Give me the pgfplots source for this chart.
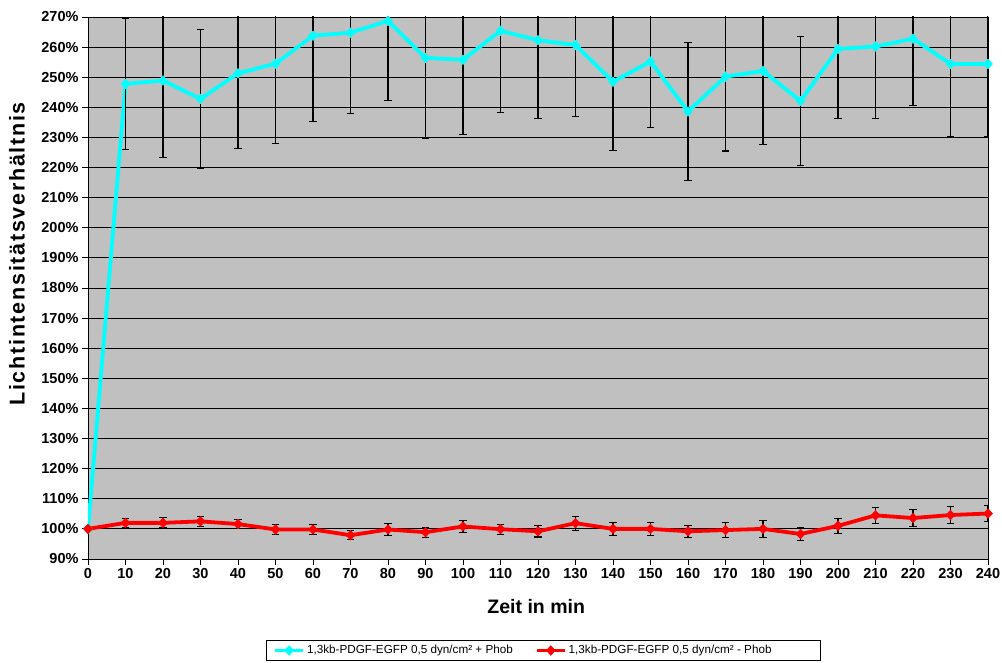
\documentclass[border=0pt]{standalone}
\usepackage{pgfplots}
\pgfplotsset{compat=1.18}
\usepackage{pgfplotstable}
\usepackage{fontspec}
\setmainfont{Liberation Sans}
\definecolor{plotbg}{HTML}{C0C0C0}
\definecolor{cyanl}{HTML}{00FFFF}
\definecolor{redl}{HTML}{FF0000}

\pgfplotstableread{
x y e
0 100 0
10 247.8 21.7
20 248.9 25.6
30 242.8 23.1
40 251.3 25.0
50 254.5 26.5
60 263.8 28.6
70 264.8 26.7
80 268.7 26.5
90 256.4 26.6
100 255.8 24.7
110 265.4 27.2
120 262.3 25.9
130 260.7 23.8
140 248.5 22.9
150 255.2 21.9
160 238.6 23.0
170 250.2 24.7
180 252.1 24.3
190 242.1 21.5
200 259.4 23.2
210 260.2 24.0
220 262.8 22.2
230 254.4 24.1
240 254.4 24.1
}\plus

\pgfplotstableread{
x y e
0 100 0
10 102.0 1.4
20 102.0 1.7
30 102.5 1.7
40 101.6 1.5
50 99.8 1.7
60 99.8 1.7
70 97.9 1.5
80 99.8 2.1
90 98.9 1.7
100 100.8 2.0
110 99.9 1.7
120 99.2 1.9
130 101.9 2.3
140 100.0 2.1
150 100.0 2.2
160 99.2 2.0
170 99.6 2.5
180 100.0 2.8
190 98.3 2.3
200 101.0 2.5
210 104.5 2.7
220 103.6 2.8
230 104.6 2.8
240 105.1 2.6
}\minus

\begin{document}
\begin{tikzpicture}
\begin{axis}[
  scale only axis,
  width=900pt, height=542pt,
  xmin=0, xmax=240, ymin=90, ymax=270,
  xtick distance=10, ytick distance=10,
  axis background/.style={fill=plotbg},
  axis line style={black, line width=0.8pt},
  ymajorgrids, grid style={black, line width=0.9pt},
  tick style={black, line width=0.8pt},
  tick align=outside,
  major tick length=6pt,
  xtick pos=bottom, ytick pos=left,
  tick label style={font=\bfseries\fontsize{14.5}{16}\selectfont},
  yticklabel={\pgfmathparse{int(round(\tick))}\pgfmathresult\%},
  xticklabel={\pgfmathparse{int(round(\tick))}\pgfmathresult},
  xlabel={Zeit in min},
  ylabel={\addfontfeature{LetterSpace=8}Lichtintensitätsverhältnis},
  xlabel style={font=\bfseries\fontsize{19.5}{22}\selectfont, at={(axis description cs:0.498,-0.0886)}, anchor=center},
  ylabel style={font=\bfseries\fontsize{21.5}{24}\selectfont, at={(axis description cs:-0.079,0.563)}, anchor=center, rotate=0},
  legend columns=2,
  legend style={at={(axis description cs:0.1978,-0.1688)}, anchor=west,
    draw=black, line width=0.5pt, fill=white,
    font=\fontsize{11.7}{13}\selectfont,
    /tikz/every even column/.append style={column sep=20pt},
    inner ysep=3pt, inner xsep=7pt},
  legend image code/.code={
    \draw[#1] (0pt,0pt) -- (28pt,0pt);
    \draw[#1, only marks] plot coordinates {(14pt,0pt)};
  },
  error bars/error bar style={black, line width=1.1pt},
  error bars/error mark options={rotate=90, mark size=3.6pt, line width=1.1pt, black},
]
\addplot[cyanl, line width=3.8pt, mark=diamond*, mark size=4.8pt,
  mark options={line width=0.5pt, fill=cyanl, xscale=1.25},
  error bars/.cd, y dir=both, y explicit]
  table[x=x, y=y, y error=e] {\plus};
\addlegendentry{1,3kb-PDGF-EGFP 0,5 dyn/cm² + Phob}
\addplot[redl, line width=3.8pt, mark=diamond*, mark size=4.8pt,
  mark options={line width=0.5pt, fill=redl, xscale=1.25},
  error bars/.cd, y dir=both, y explicit]
  table[x=x, y=y, y error=e] {\minus};
\addlegendentry{1,3kb-PDGF-EGFP 0,5 dyn/cm² - Phob\kern40pt}
\end{axis}
\pgfresetboundingbox
\useasboundingbox (-88pt,-103pt) rectangle (914pt,559pt);
\end{tikzpicture}
\end{document}
